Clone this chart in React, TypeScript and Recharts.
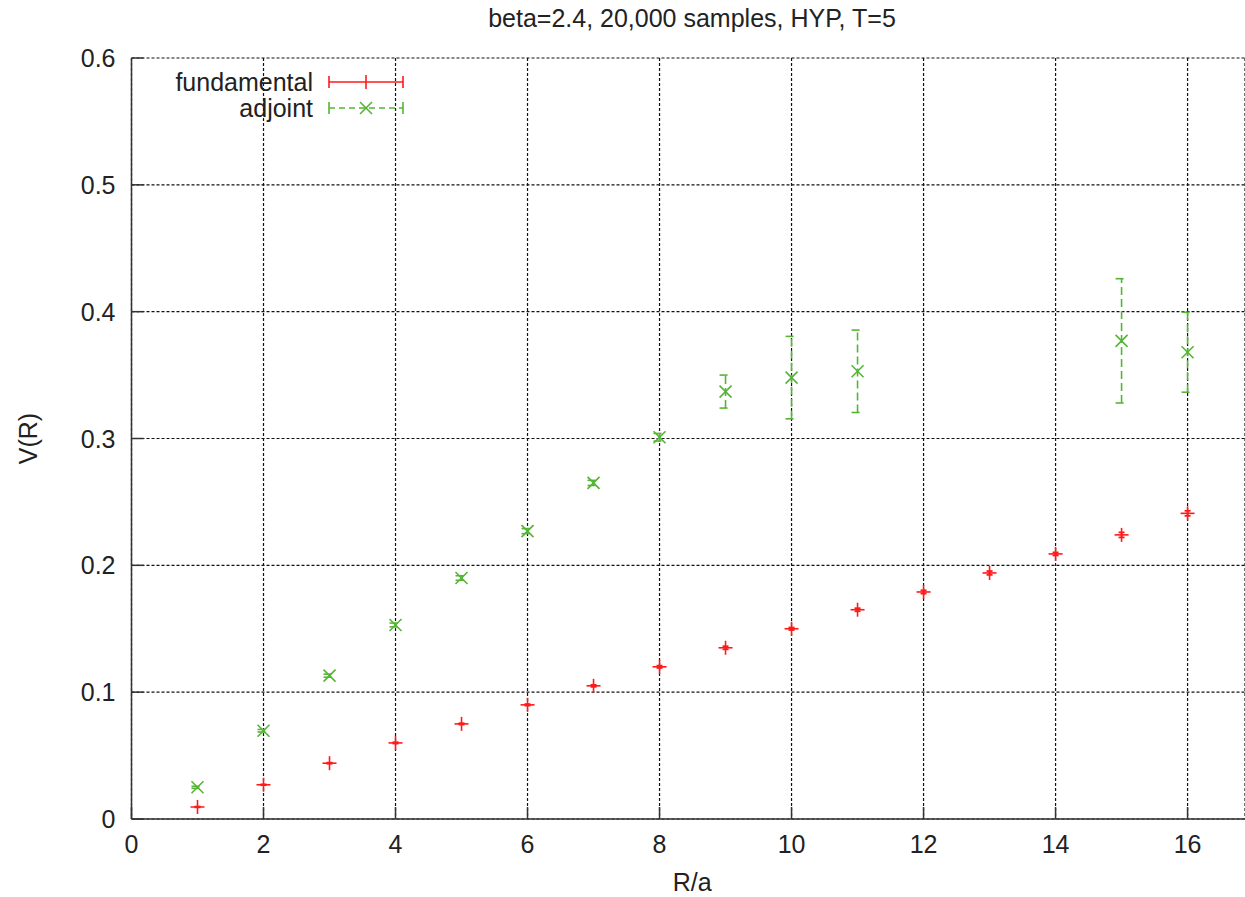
import { ScatterChart, Scatter, XAxis, YAxis, CartesianGrid, ErrorBar, Legend, Label } from "recharts";

const title = "beta=2.4, 20,000 samples, HYP, T=5";
const seriesNames = ["fundamental", "adjoint"];

const fundamentalR = [1, 2, 3, 4, 5, 6, 7, 8, 9, 10, 11, 12, 13, 14, 15, 16];
const fundamentalV = [0.0095, 0.027, 0.044, 0.06, 0.075, 0.09, 0.105, 0.12, 0.135, 0.15, 0.165, 0.179, 0.194, 0.209, 0.224, 0.241];
const fundamentalErr = [0.0003, 0.0003, 0.0004, 0.0005, 0.0005, 0.0006, 0.0008, 0.0009, 0.0012, 0.001, 0.0012, 0.0013, 0.0015, 0.0012, 0.002, 0.002];

const adjointR = [1, 2, 3, 4, 5, 6, 7, 8, 9, 10, 11, 15, 16];
const adjointV = [0.025, 0.0696, 0.113, 0.153, 0.19, 0.227, 0.265, 0.301, 0.337, 0.348, 0.353, 0.377, 0.368];
const adjointErr = [0.0008, 0.001, 0.0012, 0.0015, 0.0018, 0.002, 0.002, 0.003, 0.013, 0.0325, 0.0325, 0.049, 0.0315];

const xTicks = [0, 2, 4, 6, 8, 10, 12, 14, 16];
const yTicks = [0, 0.1, 0.2, 0.3, 0.4, 0.5, 0.6];
const yTickLabels = ["0", "0.1", "0.2", "0.3", "0.4", "0.5", "0.6"];

const RED = "#ff1a1a";
const GREEN = "#55b535";
const FONT = "'Liberation Sans', Arial, sans-serif";
const AXIS = "#333";

const fundamentalData = fundamentalR.map((r, i) => ({ r, v: fundamentalV[i], err: fundamentalErr[i] }));
const adjointData = adjointR.map((r, i) => ({ r, v: adjointV[i], err: adjointErr[i] }));

function PlusShape(props: any) {
  const { cx, cy } = props;
  return (
    <g stroke={RED} strokeWidth={1.6}>
      <line x1={cx - 7} y1={cy} x2={cx + 7} y2={cy} />
      <line x1={cx} y1={cy - 7} x2={cx} y2={cy + 7} />
    </g>
  );
}

function CrossShape(props: any) {
  const { cx, cy } = props;
  return (
    <g stroke={GREEN} strokeWidth={1.6}>
      <line x1={cx - 6} y1={cy - 6} x2={cx + 6} y2={cy + 6} />
      <line x1={cx - 6} y1={cy + 6} x2={cx + 6} y2={cy - 6} />
    </g>
  );
}

function BottomTick(props: any) {
  const { x, y, payload } = props;
  return (
    <g>
      <line x1={x} y1={y} x2={x} y2={y - 12} stroke={AXIS} strokeWidth={1.5} />
      <text x={x} y={y + 34} textAnchor="middle" fontSize={25} fontFamily={FONT} fill="#222">
        {payload.value}
      </text>
    </g>
  );
}

function TopTick(props: any) {
  const { x, y } = props;
  return <line x1={x} y1={y} x2={x} y2={y + 12} stroke={AXIS} strokeWidth={1.5} />;
}

function LeftTick(props: any) {
  const { x, y, payload } = props;
  const i = yTicks.findIndex((t) => Math.abs(t - payload.value) < 1e-9);
  return (
    <g>
      <line x1={x} y1={y} x2={x + 12} y2={y} stroke={AXIS} strokeWidth={1.5} />
      <text x={x - 16} y={y + 9} textAnchor="end" fontSize={25} fontFamily={FONT} fill="#222">
        {i >= 0 ? yTickLabels[i] : payload.value}
      </text>
    </g>
  );
}

function LegendBox(props: any) {
  const items = props.payload || [];
  return (
    <svg width={420} height={130} style={{ overflow: "visible" }}>
      {seriesNames.map((name, i) => {
        const item = items.find((it: any) => it.value === name);
        const cy = 82 + i * 26;
        const color = item && item.color ? item.color : i === 0 ? RED : GREEN;
        const dash = i === 0 ? undefined : "6 4";
        return (
          <g key={name}>
            <text x={313} y={cy + 9} textAnchor="end" fontSize={25} fontFamily={FONT} fill="#222">
              {name}
            </text>
            <g stroke={color} strokeWidth={1.6}>
              <line x1={329} y1={cy} x2={403} y2={cy} strokeDasharray={dash} />
              <line x1={329} y1={cy - 6} x2={329} y2={cy + 6} />
              <line x1={403} y1={cy - 6} x2={403} y2={cy + 6} />
              {i === 0 ? (
                <line x1={366} y1={cy - 7} x2={366} y2={cy + 7} />
              ) : (
                <>
                  <line x1={360} y1={cy - 6} x2={372} y2={cy + 6} />
                  <line x1={360} y1={cy + 6} x2={372} y2={cy - 6} />
                </>
              )}
            </g>
          </g>
        );
      })}
    </svg>
  );
}

export default function App() {
  return (
    <div style={{ position: "absolute", left: 0, top: 0, background: "#fff" }}>
      <ScatterChart width={1245} height={897} margin={{ top: 58, right: 0, bottom: 0, left: 0 }}>
        <CartesianGrid stroke="#111" strokeDasharray="3 2" strokeWidth={1.2} />
        <XAxis
          dataKey="r"
          type="number"
          domain={[0, 16.87]}
          allowDataOverflow
          ticks={xTicks}
          height={78}
          axisLine={{ stroke: AXIS, strokeWidth: 1.5 }}
          tickLine={false}
          tickSize={0}
          tickMargin={0}
          tick={<BottomTick />}
        >
          <Label
            content={(p: any) => {
              const vb = p.viewBox;
              return (
                <text x={vb.x + vb.width / 2 + 4} y={vb.y + 72} textAnchor="middle" fontSize={25} fontFamily={FONT} fill="#222">
                  R/a
                </text>
              );
            }}
          />
        </XAxis>
        <XAxis
          xAxisId="top"
          orientation="top"
          dataKey="r"
          type="number"
          domain={[0, 16.87]}
          allowDataOverflow
          ticks={xTicks}
          height={0}
          axisLine={{ stroke: AXIS, strokeWidth: 1.5 }}
          tickLine={false}
          tickSize={0}
          tickMargin={0}
          tick={<TopTick />}
        />
        <YAxis
          dataKey="v"
          type="number"
          domain={[0, 0.6]}
          ticks={yTicks}
          width={131.5}
          axisLine={{ stroke: AXIS, strokeWidth: 1.5 }}
          tickLine={false}
          tickSize={0}
          tickMargin={0}
          tick={<LeftTick />}
        >
          <Label
            content={(p: any) => {
              const vb = p.viewBox;
              const cx = 28;
              const cy = vb.y + vb.height / 2;
              return (
                <g>
                  <text x={cx} y={cy} transform={`rotate(-90 ${cx} ${cy})`} textAnchor="middle" dominantBaseline="central" fontSize={25} fontFamily={FONT} fill="#222">
                    V(R)
                  </text>
                  <text x={692} y={vb.y - 31} textAnchor="middle" fontSize={25} fontFamily={FONT} fill="#222">
                    {title}
                  </text>
                </g>
              );
            }}
          />
        </YAxis>
        <Legend
          layout="vertical"
          align="center"
          verticalAlign="middle"
          wrapperStyle={{ position: "absolute", left: 0, top: 0, width: 420, height: 130 }}
          content={<LegendBox />}
        />
        <Scatter name="fundamental" data={fundamentalData} dataKey="v" shape={<PlusShape />} fill={RED} isAnimationActive={false}>
          <ErrorBar dataKey="err" direction="y" width={3} stroke={RED} strokeWidth={1.8} />
        </Scatter>
        <Scatter name="adjoint" data={adjointData} dataKey="v" shape={<CrossShape />} fill={GREEN} isAnimationActive={false}>
          <ErrorBar dataKey="err" direction="y" width={6} stroke={GREEN} strokeWidth={1.6} strokeDasharray="8 4" />
        </Scatter>
      </ScatterChart>
    </div>
  );
}
